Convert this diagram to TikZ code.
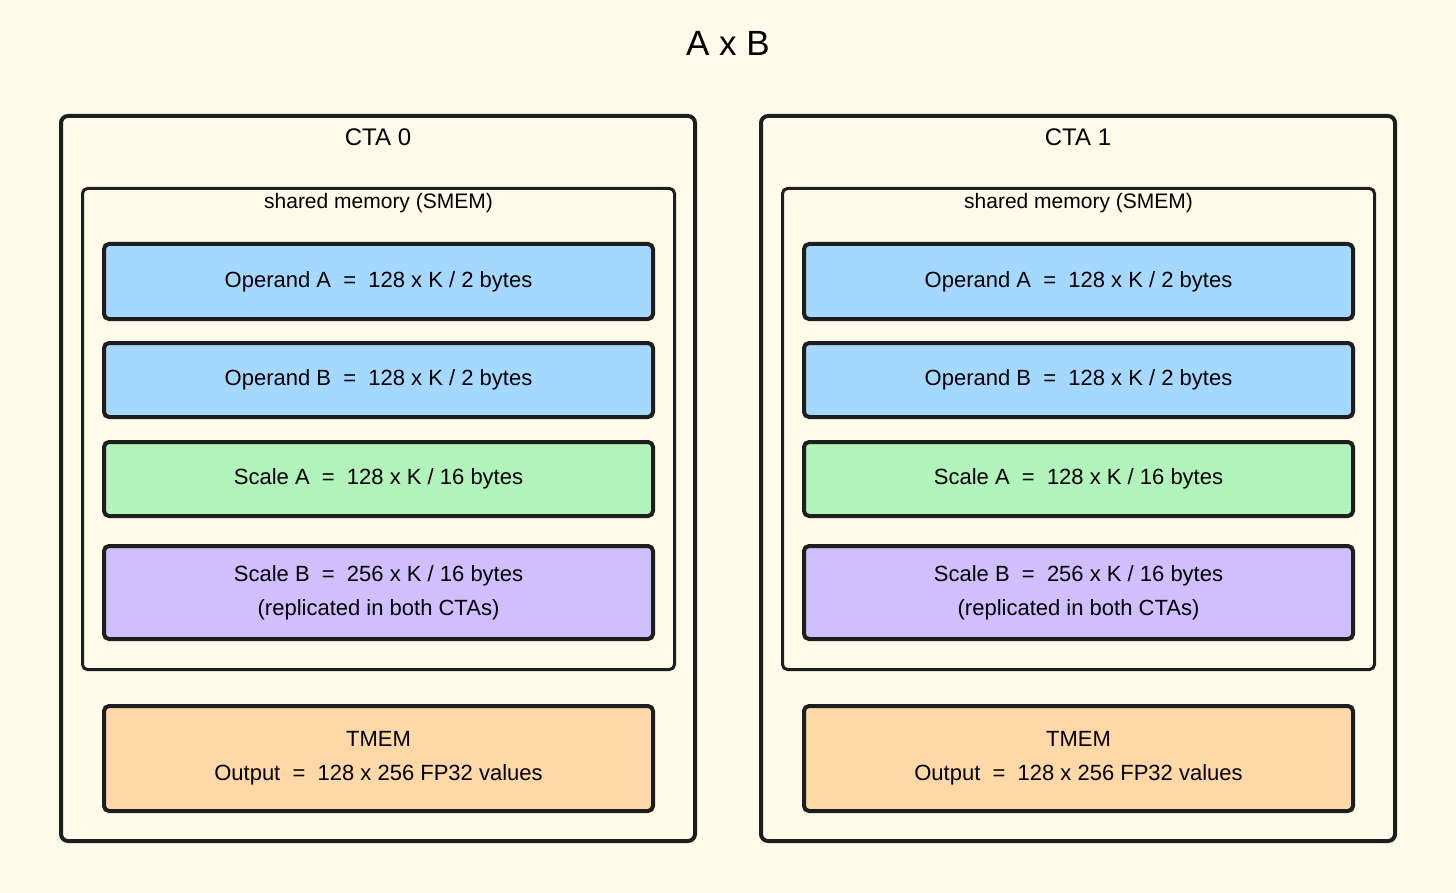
\documentclass[tikz,border=0pt]{standalone}
\usepackage{fontspec}
\setmainfont{Liberation Sans}
\usetikzlibrary{positioning}

\definecolor{paper}{HTML}{FEFBEB}
\definecolor{ink}{HTML}{1E1E1E}
\definecolor{opblue}{HTML}{A5D8FF}
\definecolor{scgreen}{HTML}{B2F2BB}
\definecolor{scpurple}{HTML}{D0BFFF}
\definecolor{tmorange}{HTML}{FFD8A8}

\begin{document}
\begin{tikzpicture}[x=1pt, y=-1pt,
        panel/.style={draw=ink, line width=4pt, rounded corners=7pt, minimum width=634pt, minimum height=725pt},
        smembox/.style={draw=ink, line width=3pt, rounded corners=5pt, minimum width=592pt, minimum height=481pt},
        membox/.style={draw=ink, line width=4pt, rounded corners=5pt, minimum width=549pt, align=center,
            font=\fontsize{22}{34}\selectfont},
        label/.style={font=\fontsize{21}{26}\selectfont}
    ]
        \useasboundingbox[fill=paper] (0,0) rectangle (1456,893);
        \node[font=\fontsize{35}{42}\selectfont] (title) at (728,43) {A x B};

        \foreach \i/\dx in {0/0, 1/700} {
            \node[panel] (cta\i) at (\dx+378,478.5) {};
            \node[font=\fontsize{24}{30}\selectfont, below=11pt of cta\i.north] (ctalbl\i) {CTA \i};
            \node[smembox] (smem\i) at (\dx+378.5,429) {};
            \node[label, below=3pt of smem\i.north] (smemlbl\i) {shared memory (SMEM)};

            \node[membox, fill=opblue, minimum height=75pt] (opa\i) at (\dx+378.5,281.5)
                {Operand A~~=~~128 x K / 2 bytes};
            \node[membox, fill=opblue, minimum height=74pt, below=20pt of opa\i] (opb\i)
                {Operand B~~=~~128 x K / 2 bytes};
            \node[membox, fill=scgreen, minimum height=74pt, below=21pt of opb\i] (sca\i)
                {Scale A~~=~~128 x K / 16 bytes};
            \node[membox, fill=scpurple, minimum height=93pt, below=26pt of sca\i] (scb\i)
                {Scale B~~=~~256 x K / 16 bytes\\(replicated in both CTAs)};
            \node[membox, fill=tmorange, minimum height=105pt, below=63pt of scb\i] (tmem\i)
                {TMEM\\Output~~=~~128 x 256 FP32 values};
        }
    \end{tikzpicture}
\end{document}
